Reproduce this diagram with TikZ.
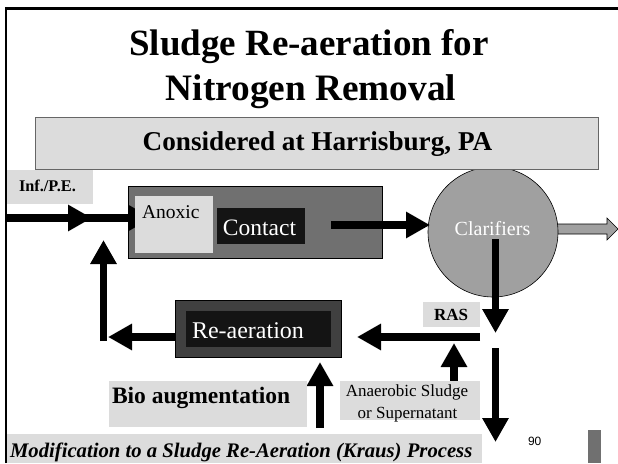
\documentclass[tikz,border=0pt]{standalone}
\usepackage{fontspec}
\setmainfont{Liberation Serif}
\newfontfamily\pagenumfont{Liberation Sans}
\usetikzlibrary{arrows.meta}
\definecolor{pale}{HTML}{DCDCDC}
\definecolor{midgray}{HTML}{707070}
\definecolor{clargray}{HTML}{A0A0A0}
\definecolor{darkgray}{HTML}{404040}
\definecolor{nearblack}{HTML}{141414}
\tikzset{
  box/.style={rectangle, inner sep=0pt, outer sep=0pt},
  palebox/.style={box, fill=pale},
  txt/.style={inner sep=0pt, outer sep=0pt},
  flow/.style={line width=7.5pt, -{Triangle[length=24pt,width=25pt]}},
  fs/.style={font=\fontsize{#1}{#1}\selectfont},
}
\begin{document}
\begin{tikzpicture}[x=1pt,y=-1pt]
\useasboundingbox (0,0) rectangle (618,463);
\fill[white] (0,0) rectangle (618,463);

% slide frame
\draw[line width=2.5pt, line join=miter] (6,463) -- (6,8.5) -- (618,8.5);

% title
\node[txt, anchor=base, font=\fontsize{37}{37}\selectfont\bfseries] (title1) at (309,55) {Sludge Re-aeration for};
\node[txt, anchor=base, font=\fontsize{37.3}{37}\selectfont\bfseries] (title2) at (311,100) {Nitrogen Removal};

% outlet from the clarifiers (hollow arrow)
\draw[fill=clargray, line width=0.6pt] (550,224) -- (607,224) -- (607,218) -- (618,229) -- (607,240) -- (607,234) -- (550,234) -- cycle;

% clarifiers
\node[circle, draw=black, line width=0.6pt, fill=clargray, minimum size=130pt, inner sep=0pt] (clar) at (493,232) {};

% banner
\node[box, fill=pale, draw=black!60, line width=0.8pt, minimum width=563pt, minimum height=52pt] (banner) at (316.5,143) {};
\node[txt, anchor=base, font=\fontsize{27.2}{27}\selectfont\bfseries] (bannertxt) at (317.5,150) {Considered at Harrisburg, PA};

% influent label
\node[palebox, minimum width=86pt, minimum height=34pt] (inf) at (50,187) {};
\node[txt, anchor=base west, font=\fontsize{16.3}{16}\selectfont\bfseries] (inftxt) at (19,191) {Inf./P.E.};

% contact tank
\node[box, fill=midgray, draw=black, line width=0.6pt, minimum width=254pt, minimum height=72pt] (tank) at (255,222) {};

% arrow coordinates
\coordinate (src) at (7,218);
\coordinate (j1) at (92,218);
\coordinate (j1s) at (82,218);
\coordinate (anxin) at (152,218);
\coordinate (retbot) at (103.5,341);
\coordinate (rettop) at (103.5,240);
\coordinate (reout) at (175,337);
\coordinate (reouttip) at (108,337);
\coordinate (conout) at (331,225);
\coordinate (clarin) at (430,225);
\coordinate (clarout) at (495.5,239);
\coordinate (rasend) at (495.5,333);
\coordinate (rasfrom) at (480,337);
\coordinate (rasto) at (357,337);
\coordinate (anaerfrom) at (454,382);
\coordinate (anaerto) at (454,343);
\coordinate (wasfrom) at (495.5,348);
\coordinate (wasto) at (495.5,442);
\coordinate (biofrom) at (320,428);
\coordinate (bioto) at (320,362);

% main flow
\draw[flow] (j1s) -- (anxin);
\draw[flow] (src) -- (j1);
\draw[flow] (conout) -- (clarin);
\draw[flow] (clarout) -- (rasend);

% anoxic and contact zones
\node[palebox, minimum width=78pt, minimum height=57pt] (anoxic) at (174,224.5) {};
\node[txt, anchor=base west, fs=19.5] (anoxictxt) at (142,218) {Anoxic};
\node[box, fill=nearblack, minimum width=88pt, minimum height=36pt] (contact) at (261,226) {};
\node[txt, anchor=base, fs=23.5, text=white] (contacttxt) at (259.5,235) {Contact};
\node[txt, anchor=base, fs=20, text=white] (clartxt) at (492.5,235) {Clarifiers};

% re-aeration tank
\node[box, fill=darkgray, draw=black, line width=0.6pt, minimum width=166pt, minimum height=57pt] (reaer) at (258,328.5) {};
\node[box, fill=nearblack, minimum width=145pt, minimum height=36pt] (reaerin) at (258.5,329) {};
\node[txt, anchor=base west, fs=24, text=white] (reaertxt) at (192,338) {Re-aeration};

% return sludge loop
\draw[flow] (reout) -- (reouttip);
\draw[flow] (retbot) -- (rettop);
\draw[flow] (rasfrom) -- (rasto);
\draw[flow] (anaerfrom) -- (anaerto);
\draw[flow] (wasfrom) -- (wasto);
\draw[flow] (biofrom) -- (bioto);

% labels
\node[palebox, minimum width=57pt, minimum height=25pt] (ras) at (451.5,314.5) {};
\node[txt, anchor=base, font=\fontsize{17}{17}\selectfont\bfseries] (rastxt) at (451,320) {RAS};
\node[palebox, minimum width=140pt, minimum height=39pt] (anaer) at (410,400.5) {};
\node[txt, anchor=base, fs=17] (anaertxt1) at (407,396) {Anaerobic Sludge};
\node[txt, anchor=base, fs=17] (anaertxt2) at (407.5,418) {or Supernatant};
\node[palebox, minimum width=198pt, minimum height=46pt] (bio) at (208,404) {};
\node[txt, anchor=base west, font=\fontsize{23.5}{23}\selectfont\bfseries] (biotxt) at (112,403) {Bio augmentation};

% caption, page number, corner mark
\node[palebox, minimum width=475pt, minimum height=29pt] (caption) at (244.5,448.5) {};
\node[txt, anchor=base west, font=\fontsize{20.7}{20}\selectfont\bfseries\itshape] (captiontxt) at (10,457) {Modification to a Sludge Re-Aeration (Kraus) Process};
\node[txt, anchor=base west, font=\pagenumfont\fontsize{12}{12}\selectfont] (pagenum) at (528,445) {90};
\node[box, fill=midgray, minimum width=13pt, minimum height=33pt] (mark) at (594.5,446.5) {};

% frame drawn last so it stays on top at the left edge
\draw[line width=2.5pt] (6,170) -- (6,463);
\end{tikzpicture}
\end{document}
